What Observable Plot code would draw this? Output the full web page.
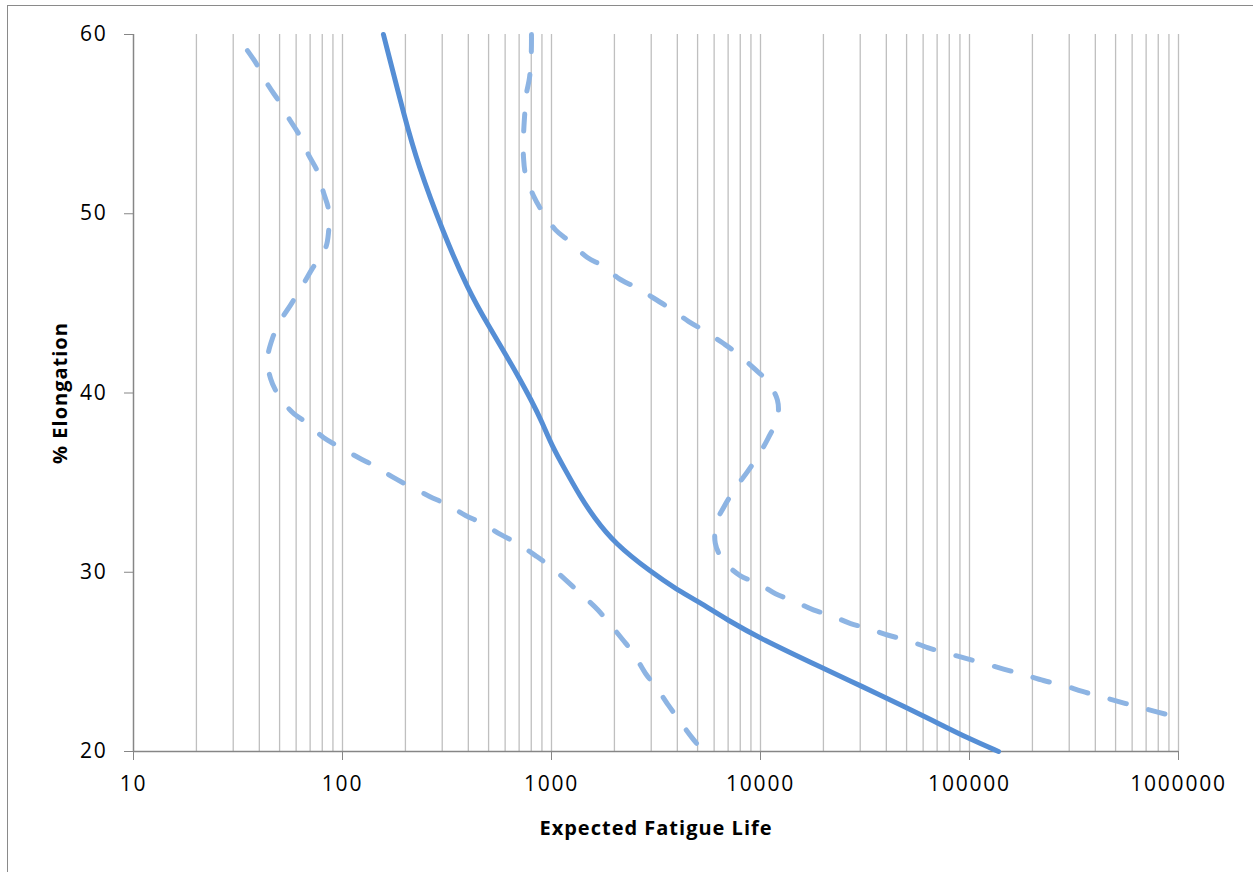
<!DOCTYPE html>
<html><head><meta charset="utf-8">
<script src="https://cdn.jsdelivr.net/npm/d3@7"></script>
<script src="https://cdn.jsdelivr.net/npm/@observablehq/plot@0.6"></script>
<style>
html,body{margin:0;padding:0;background:#fff;overflow:hidden}
#frame{position:absolute;left:7px;top:5px;width:1300px;height:900px;border:1.2px solid #8a8a8a;box-sizing:border-box}
#chart{position:absolute;left:0;top:0}
#chart g[aria-label="x-axis tick label"], #chart g[aria-label="y-axis tick label"]{letter-spacing:1.8px}
#chart g[aria-label="text"]{letter-spacing:1px}
</style></head><body><div id="frame"></div><div id="chart"></div>
<script>
// Solid curve: expected fatigue life vs % elongation
const solidElong = [60, 55.2, 52.8, 49.07, 45.72, 43.75, 42.2, 40.85, 39.6, 38.4, 37.1, 35.68, 34.19, 33.07, 31.62, 30.0, 29.02, 28.39, 27.31, 26.3, 24.63, 23.68, 22.45, 21.6, 20.7, 20];
const solidLife  = [157, 200, 229, 300, 400, 500, 600, 700, 800, 900, 1000, 1167, 1377, 1596, 2000, 3000, 4000, 5000, 7000, 10000, 20000, 30000, 50000, 70000, 100000, 137700];

// Lower dashed bound (left)
const lowerElong = [59.1, 58.27, 57.15, 56.3, 55.26, 54.37, 53.3, 52.36, 51.19, 50.24, 48.95, 48.1, 46.95, 46.0, 44.9, 44.04, 43.04, 41.9, 40.8, 39.86, 38.91, 38.3, 37.52, 36.96, 36.4, 35.9, 35.29, 34.78, 34.23, 33.78, 33.17, 32.72, 32.11, 31.6, 30.93, 30.32, 29.48, 28.81, 27.92, 27.2, 26.25, 25.47, 24.35, 23.57, 22.57, 21.79, 20.73, 20];
const lowerLife  = [35.1, 39.2, 44.2, 49.5, 55.8, 62.3, 68.7, 75.9, 81.1, 85.7, 85.7, 83, 71.8, 64.4, 56.4, 50.5, 46.2, 43.8, 45.3, 49.5, 57.7, 68.1, 81.1, 97.8, 119, 144, 175, 211, 261, 315, 388, 468, 570, 688, 838, 988, 1193, 1377, 1660, 1875, 2188, 2468, 2818, 3179, 3631, 4055, 4731, 5336];

// Upper dashed bound (right)
const upperElong = [60, 58.9, 57.6, 56.7, 55.4, 54.0, 53.1, 52.2, 51.0, 50.1, 49.1, 48.5, 47.56, 47.1, 46.4, 45.9, 45.3, 44.7, 44.0, 43.5, 42.8, 42.2, 41.4, 40.7, 39.6, 38.6, 37.5, 36.6, 35.6, 34.7, 33.6, 32.8, 31.6, 30.65, 29.8, 29.4, 28.8, 28.4, 27.9, 27.6, 27.14, 26.86, 26.5, 26.2, 25.8, 25.5, 25.2, 24.6, 24.3, 23.96, 23.7, 23.35, 23.07, 22.45, 21.9];
const upperLife  = [802, 800, 785, 759, 743, 733, 735, 751, 820, 906, 1045, 1206, 1485, 1754, 2094, 2522, 3076, 3710, 4520, 5340, 6580, 7760, 9260, 10700, 12050, 12050, 10900, 9880, 8650, 7590, 6650, 6160, 6080, 6650, 8020, 9690, 11800, 14400, 17900, 21600, 27000, 32900, 40500, 50500, 63000, 76700, 96000, 145500, 181000, 226000, 279000, 347000, 424000, 658000, 1000000];

const xTicks = [10, 100, 1000, 10000, 100000, 1000000];
const yTicks = [20, 30, 40, 50, 60];
const gridMultipliers = [2, 3, 4, 5, 6, 7, 8, 9, 10];
const gridDecades = [10, 100, 1000, 10000, 100000];

const toRows = (xs, ys) => xs.map((x, i) => ({life: x, elong: ys[i]}));
const solid = toRows(solidLife, solidElong);
const lower = toRows(lowerLife, lowerElong);
const upper = toRows(upperLife, upperElong);
const grid = gridDecades.flatMap(d => gridMultipliers.map(m => d * m));

const font = "'Open Sans', 'Liberation Sans', sans-serif";
const chart = Plot.plot({
  width: 1253, height: 872,
  marginLeft: 133, marginRight: 75, marginTop: 34, marginBottom: 121,
  style: {fontFamily: font, fontSize: "21px", color: "#000", background: "transparent"},
  x: {type: "log", domain: [10, 1000000]},
  y: {domain: [20, 60]},
  marks: [
    Plot.ruleX(grid, {stroke: "#BFBFBF", strokeWidth: 1.3}),
    Plot.ruleX([10], {stroke: "#868686", strokeWidth: 1.5}),
    Plot.ruleY([20], {stroke: "#868686", strokeWidth: 1.5}),
    Plot.axisX({ticks: xTicks, tickFormat: d => String(d), tickSize: 9, tickPadding: 16, stroke: "#868686", fill: "#000", label: null}),
    Plot.axisY({ticks: yTicks, tickSize: 9, tickPadding: 17, stroke: "#868686", fill: "#000", label: null}),
    Plot.line(lower, {x: "life", y: "elong", curve: "catmull-rom", stroke: "#8DB4E3", strokeWidth: 5, strokeDasharray: "17,23", strokeLinecap: "round"}),
    Plot.line(upper, {x: "life", y: "elong", curve: "catmull-rom", stroke: "#8DB4E3", strokeWidth: 5, strokeDasharray: "17,23", strokeLinecap: "round"}),
    Plot.line(solid, {x: "life", y: "elong", curve: "basis", stroke: "#558ED5", strokeWidth: 5}),
    Plot.text(["Expected Fatigue Life"], {frameAnchor: "bottom", lineAnchor: "middle", textAnchor: "middle", dy: 77, fontWeight: "bold", fontSize: 20, fill: "#000"}),
    Plot.text(["% Elongation"], {frameAnchor: "left", lineAnchor: "middle", textAnchor: "middle", rotate: -90, dx: -73, fontWeight: "bold", fontSize: 20, fill: "#000"})
  ]
});
document.getElementById("chart").appendChild(chart);
</script></body></html>
